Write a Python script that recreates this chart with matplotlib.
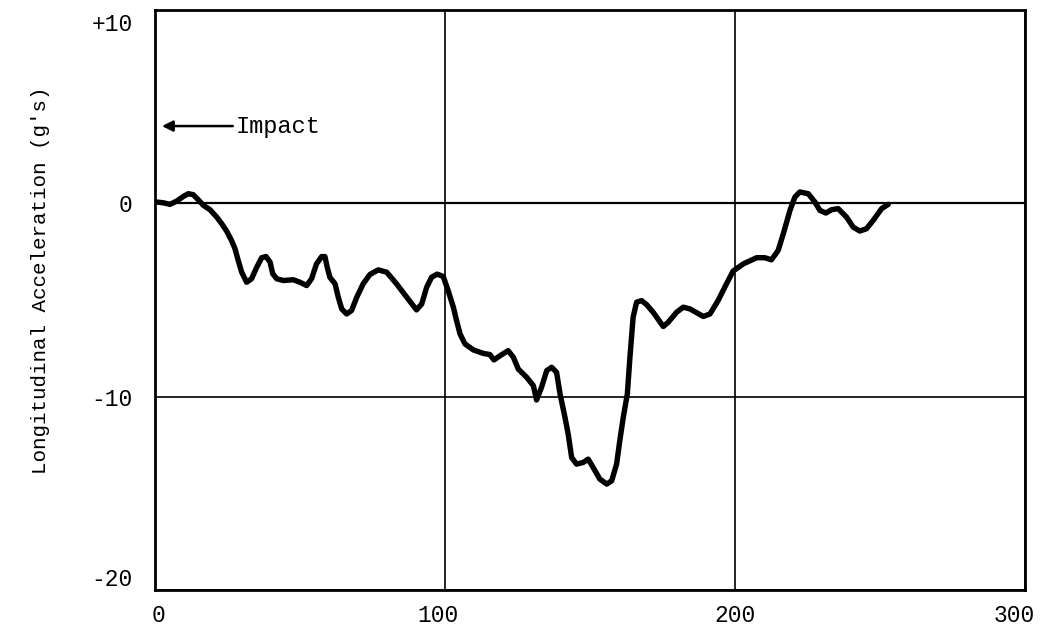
import matplotlib.pyplot as plt
from matplotlib.transforms import ScaledTranslation

# crash pulse: time after impact (ms) vs longitudinal acceleration (g)
time_ms = [0.6, 2.9, 5.2, 7.5, 9.8, 11.5, 13.2, 14.9, 16.7, 19, 21.3, 23, 24.7,
           26.4, 27.6, 28.7, 29.9, 31.6, 33.3, 35.1, 36.8, 38.3, 39.7, 40.6,
           42, 44.3, 47.7, 50, 52.3, 54, 55.7, 57.5, 58.6, 59.4, 60.3, 62.1,
           63.2, 64.4, 66.1, 67.8, 69.6, 71.8, 74.1, 77, 79.9, 83.3, 86.8,
           90.2, 92, 93.7, 95.4, 97.3, 99.4, 101.1, 102.9, 104, 105.2, 106.9,
           109.8, 113.2, 115.5, 116.9, 119, 121.8, 123.6, 125.3, 128.2, 130.5,
           131.6, 133.3, 135.1, 136.8, 138.5, 139.7, 141.4, 142.5, 143.7,
           145.4, 147.7, 149.4, 151.1, 153.4, 155.8, 157.5, 159.2, 160.3,
           161.5, 162.9, 163.8, 164.9, 166.1, 167.8, 169.5, 171.8, 175.3, 177,
           179.9, 182.2, 184.5, 189.1, 191.4, 194.2, 197.1, 199.4, 202.9,
           207.5, 210.3, 212.6, 214.9, 216.7, 219, 220.7, 222.4, 225.3, 227.6,
           229.3, 231.4, 233.3, 235.6, 238.5, 240.8, 243.1, 245.4, 247.7,
           250.6, 252.9]
accel_g = [0.07, 0.03, -0.05, 0.12, 0.36, 0.5, 0.45, 0.19, -0.1, -0.33, -0.71,
           -1.05, -1.43, -1.92, -2.35, -2.95, -3.56, -4.08, -3.9, -3.3, -2.81,
           -2.75, -3.04, -3.64, -3.9, -3.99, -3.95, -4.08, -4.25, -3.9, -3.13,
           -2.75, -2.75, -3.3, -3.82, -4.16, -4.85, -5.46, -5.72, -5.54, -4.85,
           -4.16, -3.68, -3.44, -3.56, -4.16, -4.85, -5.51, -5.2, -4.34, -3.82,
           -3.66, -3.78, -4.51, -5.37, -6.06, -6.75, -7.27, -7.58, -7.76,
           -7.82, -8.1, -7.88, -7.62, -7.96, -8.57, -9.0, -9.43, -10.17,
           -9.52, -8.65, -8.48, -8.74, -9.86, -11.07, -11.93, -13.15, -13.49,
           -13.4, -13.23, -13.66, -14.26, -14.52, -14.35, -13.49, -12.28,
           -11.07, -9.86, -7.96, -5.89, -5.11, -5.03, -5.23, -5.63, -6.37,
           -6.15, -5.63, -5.37, -5.46, -5.85, -5.72, -5.03, -4.16, -3.5,
           -3.13, -2.81, -2.81, -2.92, -2.44, -1.57, -0.36, 0.33, 0.59, 0.5,
           0.07, -0.36, -0.5, -0.33, -0.27, -0.71, -1.23, -1.43, -1.31, -0.88,
           -0.27, -0.05]

x_ticks = [0, 100, 200, 300]
y_ticks = [10, 0, -10, -20]
y_tick_labels = ['+10', '0', '-10', '-20']

mono = 'Liberation Mono'

fig = plt.figure(figsize=(10.43, 6.3), dpi=100)
ax = fig.add_axes([0.1486, 0.0635, 0.834, 0.9205])

ax.plot(time_ms, accel_g, color='black', lw=3.9, solid_capstyle='round',
        solid_joinstyle='round', zorder=3)
ax.axhline(0, color='black', lw=1.6, zorder=2)

ax.set_xlim(0, 300)
ax.set_ylim(-20, 10)
ax.set_xticks(x_ticks)
ax.set_yticks(y_ticks)
ax.set_yticklabels(y_tick_labels)
ax.tick_params(length=0, labelsize=16.5)
ax.tick_params(axis='x', pad=10)
ax.tick_params(axis='y', pad=16)
for lbl in ax.get_xticklabels() + ax.get_yticklabels():
    lbl.set_fontfamily(mono)


def nudge(label, dx, dy):
    label.set_transform(label.get_transform()
                        + ScaledTranslation(dx / 100, dy / 100,
                                            fig.dpi_scale_trans))


# pull the end labels inward, as on the hand-lettered original sheet
ylabs = ax.get_yticklabels()
nudge(ylabs[0], 0, -12)
nudge(ylabs[-1], 0, 13)
xlabs = ax.get_xticklabels()
nudge(xlabs[0], 4, 0)
nudge(xlabs[1], -7, 0)
nudge(xlabs[3], -11, 0)

ax.grid(True, color='black', lw=1.2)
for s in ax.spines.values():
    s.set_linewidth(2)

ax.set_ylabel("Longitudinal Acceleration (g's)", family=mono, fontsize=15)
ax.yaxis.set_label_coords(-0.121, 0.534)

ax.annotate('Impact', xy=(2.4, 4), xytext=(27.8, 4), family=mono,
            fontsize=17, va='center', ha='left',
            arrowprops=dict(arrowstyle='-|>', color='black', lw=1.8,
                            shrinkA=0, shrinkB=0, mutation_scale=16))

fig.savefig('out.png', dpi=100)
